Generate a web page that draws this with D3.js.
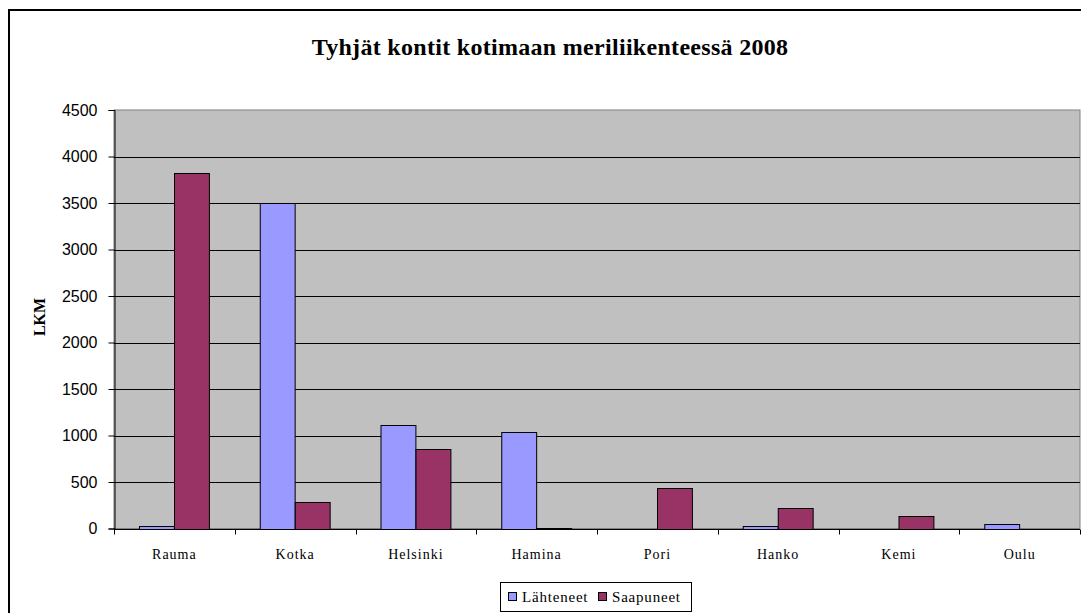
<!DOCTYPE html>
<html lang="fi">
<head>
  <meta charset="UTF-8" />
  <title>Tyhjät kontit kotimaan meriliikenteessä 2008</title>
  <script src="https://d3js.org/d3.v7.min.js"></script>
  <style>
    body { margin: 0; background: #fff; overflow: hidden; }
    svg { display: block; }
  </style>
</head>
<body>
  <svg width="1081" height="613"></svg>
  <script>
    const ports = ["Rauma", "Kotka", "Helsinki", "Hamina", "Pori", "Hanko", "Kemi", "Oulu"];
    const seriesNames = ["Lähteneet", "Saapuneet"];
    const lahteneet = [25, 3500, 1110, 1040, 0, 25, 0, 50];
    const saapuneet = [3820, 290, 850, 10, 440, 218, 136, 0];
    const yTicks = [0, 500, 1000, 1500, 2000, 2500, 3000, 3500, 4000, 4500];
    const colors = ["#9999ff", "#993366"];

    const serif = "'Liberation Serif', 'Times New Roman', serif";
    const sans = "'Liberation Sans', Arial, sans-serif";

    const svg = d3.select("svg");
    const plotLeft = 114, plotRight = 1080, plotTop = 110, plotBottom = 528.5;

    // outer chart border
    svg.append("rect")
      .attr("x", 9).attr("y", 10)
      .attr("width", 1100).attr("height", 640)
      .attr("fill", "#fff")
      .attr("stroke", "#000").attr("stroke-width", 2);

    svg.append("text")
      .attr("x", 550).attr("y", 55)
      .attr("text-anchor", "middle")
      .style("font-family", serif).style("font-weight", "bold")
      .style("font-size", "24px").style("letter-spacing", "0.3px")
      .text("Tyhjät kontit kotimaan meriliikenteessä 2008");

    const x = d3.scaleBand().domain(ports).range([plotLeft, plotRight]);
    const xs = d3.scaleBand().domain(seriesNames).range([0, x.bandwidth()]).paddingOuter(0.73);
    const y = d3.scaleLinear().domain([0, 4500]).range([plotBottom, plotTop]);

    // plot area
    svg.append("rect")
      .attr("x", plotLeft).attr("y", plotTop)
      .attr("width", plotRight - plotLeft).attr("height", plotBottom - plotTop)
      .attr("fill", "#c0c0c0")
      .attr("stroke", "#808080").attr("stroke-width", 1);

    // gridlines
    svg.append("g")
      .selectAll("line")
      .data(yTicks.filter(d => d > 0 && d < 4500))
      .join("line")
      .attr("x1", plotLeft).attr("x2", plotRight)
      .attr("y1", d => Math.round(y(d)) + 0.5)
      .attr("y2", d => Math.round(y(d)) + 0.5)
      .attr("stroke", "#000");

    // bars
    const data = ports.map((p, i) => ({ port: p, values: [lahteneet[i], saapuneet[i]] }));
    svg.append("g")
      .selectAll("g")
      .data(data)
      .join("g")
      .attr("transform", d => `translate(${x(d.port)},0)`)
      .selectAll("rect")
      .data(d => d.values.map((v, j) => ({ key: seriesNames[j], value: v, j })).filter(d => d.value > 0))
      .join("rect")
      .attr("x", d => Math.round(xs(d.key)) + 0.5)
      .attr("y", d => Math.round(y(d.value)) + 0.5)
      .attr("width", xs.bandwidth())
      .attr("height", d => Math.max(0, Math.round(plotBottom) - Math.round(y(d.value))))
      .attr("fill", d => colors[d.j])
      .attr("stroke", "#000");

    // y axis
    const yAxis = svg.append("g")
      .attr("transform", `translate(${plotLeft + 0.5},0)`)
      .call(d3.axisLeft(y).tickValues(yTicks).tickSize(6).tickPadding(11).tickFormat(d3.format("d")));
    yAxis.selectAll("path, line").attr("stroke", "#000");
    yAxis.selectAll("text")
      .style("font-family", sans).style("font-size", "16px").attr("fill", "#000");

    // x axis
    const xAxis = svg.append("g")
      .attr("transform", `translate(0,${Math.round(plotBottom) + 0.5})`)
      .call(d3.axisBottom(x).tickSize(0).tickPadding(20));
    xAxis.select(".domain").attr("stroke", "#000").attr("d", `M${plotLeft},0H${plotRight}`);
    xAxis.selectAll("text")
      .style("font-family", serif).style("font-size", "14px")
      .style("letter-spacing", "1px").attr("fill", "#000");
    xAxis.append("g")
      .selectAll("line")
      .data(ports.concat(["end"]))
      .join("line")
      .attr("x1", (d, i) => Math.round(plotLeft + i * x.step()) + 0.5)
      .attr("x2", (d, i) => Math.round(plotLeft + i * x.step()) + 0.5)
      .attr("y1", 0).attr("y2", 5)
      .attr("stroke", "#000");

    svg.append("text")
      .attr("transform", "translate(45,317) rotate(-90)")
      .attr("text-anchor", "middle")
      .style("font-family", serif).style("font-weight", "bold").style("font-size", "16px")
      .text("LKM");

    // legend
    const legend = svg.append("g").attr("transform", "translate(500,582)");
    legend.append("rect")
      .attr("x", 0.5).attr("y", 0.5).attr("width", 191).attr("height", 29)
      .attr("fill", "#fff").attr("stroke", "#000");
    const legendX = [8, 98];
    seriesNames.forEach((name, i) => {
      legend.append("rect")
        .attr("x", legendX[i] + 0.5).attr("y", 10.5)
        .attr("width", 8).attr("height", 8)
        .attr("fill", colors[i]).attr("stroke", "#000");
      legend.append("text")
        .attr("x", legendX[i] + 14).attr("y", 20)
        .style("font-family", serif).style("font-size", "15px").style("letter-spacing", "0.8px")
        .text(name);
    });
  </script>
</body>
</html>
